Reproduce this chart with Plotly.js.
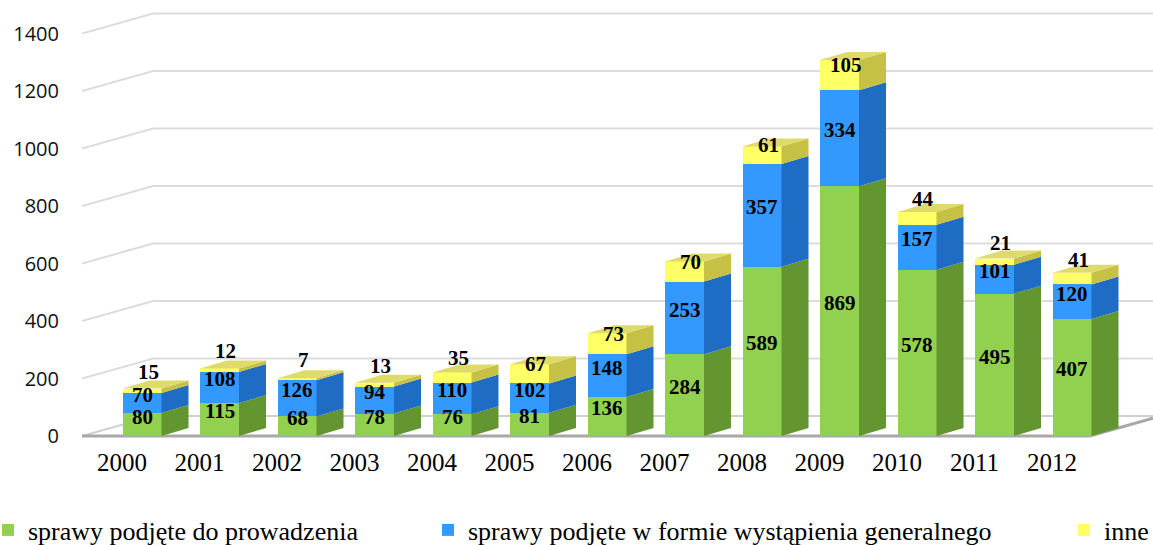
<!DOCTYPE html>
<html><head><meta charset="utf-8">
<script src="https://cdn.plot.ly/plotly-3.0.1.min.js"></script>
<style>html,body{margin:0;padding:0;background:#fff}#chart{width:1153px;height:545px}</style>
</head><body><div id="chart"></div>
<script>
// ---- data ----
const years = ["2000","2001","2002","2003","2004","2005","2006","2007","2008","2009","2010","2011","2012"];
const prowadzenia = [80,115,68,78,76,81,136,284,589,869,578,495,407];
const wystapienia = [70,108,126,94,110,102,148,253,357,334,157,101,120];
const inne = [15,12,7,13,35,67,73,70,61,105,44,21,41];
const seriesNames = ["sprawy podjęte do prowadzenia","sprawy podjęte w formie wystąpienia generalnego","inne"];
const yTicks = [0,200,400,600,800,1000,1200,1400];

// ---- geometry (pixels) ----
const W=1153,H=545, mL=82, mR=0, mT=8, mB=100;
const firstCenterPx=142, stepPx=77.5, pxPerUnit=0.2875, zeroPx=436;
const xOf = px => (px-firstCenterPx)/stepPx;
const xRange=[xOf(mL), xOf(W-mR)];
const yRange=[-(H-mB-zeroPx)/pxPerUnit, (zeroPx-mT)/pxPerUnit];
const barW = 39/stepPx;
const dX = 27/stepPx, dY = 8/pxPerUnit;       // bar depth offset
const wallX = 71/stepPx, wallY = 20/pxPerUnit; // back wall offset

const front = ["#92d050","#3399ff","#ffff66"];
const side  = ["#639530","#1f6cc4","#c6c044"];
const topC  = ["#b5e07a","#6db6ff","#dedb6a"];

const series=[prowadzenia,wystapienia,inne];
const idx = years.map((_,i)=>i);

const traces = series.map((vals,s)=>({
  type:"bar", x:idx, y:vals, width:barW, name:seriesNames[s],
  marker:{color:front[s], line:{width:0}}, hoverinfo:"skip",
  legend: s===0?"legend":(s===1?"legend2":"legend3")
}));

const shapes=[];
// gridlines: left diagonal + back wall
yTicks.forEach(v=>{
  const x0=xOf(mL), x1=xOf(mL)+wallX, x2=xOf(W);
  shapes.push({type:"path", layer:"below", xref:"x", yref:"y",
    path:`M${x0},${v} L${x1},${v+wallY} L${x2},${v+wallY}`,
    line:{color: v===0?"#cfcfcf":"#dcdcdc", width:2}});
});
// floor front edge
shapes.push({type:"path", layer:"below", xref:"x", yref:"y",
  path:`M${xOf(mL)},0 L${xOf(1090)},0 L${xOf(W)},${wallY*63/71}`,
  line:{color:"#a8a8a8", width:3}});

// 3D side and top faces
idx.forEach(i=>{
  let base=0;
  const xr=i+barW/2, xl=i-barW/2;
  series.forEach((vals,s)=>{
    const top=base+vals[i];
    shapes.push({type:"path", layer:"above", xref:"x", yref:"y",
      path:`M${xr},${base} L${xr+dX},${base+dY} L${xr+dX},${top+dY} L${xr},${top} Z`,
      fillcolor:side[s], line:{width:0}});
    base=top;
  });
  shapes.push({type:"path", layer:"above", xref:"x", yref:"y",
    path:`M${xl},${base} L${xl+dX},${base+dY} L${xr+dX},${base+dY} L${xr},${base} Z`,
    fillcolor:topC[2], line:{width:0}});
});

// value labels
const annotations=[];
idx.forEach(i=>{
  let base=0;
  series.forEach((vals,s)=>{
    const shift = s===2 ? (vals[i] < 50 ? 19 : 10) : 8;
    annotations.push({x:i, y:base+vals[i]/2, xref:"x", yref:"y", text:String(vals[i]),
      showarrow:false, yshift: shift, xshift: s===2?6:0, borderpad:0,
      font:{family:"Liberation Serif, Times New Roman, serif", size:21, color:"#000", weight:"bold"}});
    base+=vals[i];
  });
});

const legFont={family:"Liberation Serif, Times New Roman, serif", size:26, color:"#000"};
const legY=(H-mB-530)/(H-mT-mB);
const legX=px=>(px-mL)/(W-mL-mR);
const layout={
  width:W, height:H, margin:{l:mL,r:mR,t:mT,b:mB,autoexpand:false},
  paper_bgcolor:"#fff", plot_bgcolor:"rgba(0,0,0,0)",
  barmode:"stack", showlegend:true,
  xaxis:{range:xRange, tickvals:idx, ticktext:years, showgrid:false, zeroline:false, showline:false,
    ticks:"", ticklabelshift:-20,
    tickfont:{family:"Liberation Serif, Times New Roman, serif", size:25, color:"#000"}},
  yaxis:{range:yRange, tickvals:yTicks, showgrid:false, zeroline:false, showline:false,
    ticks:"outside", ticklen:18, tickcolor:"rgba(0,0,0,0)",
    tickfont:{family:"Open Sans, DejaVu Sans, sans-serif", size:20, color:"#111"}},
  legend:{x:legX(-12), y:legY, xanchor:"left", yanchor:"middle", orientation:"h", font:legFont, bgcolor:"rgba(0,0,0,0)"},
  legend2:{x:legX(428), y:legY, xanchor:"left", yanchor:"middle", orientation:"h", font:legFont, bgcolor:"rgba(0,0,0,0)"},
  legend3:{x:legX(1064), y:legY, xanchor:"left", yanchor:"middle", orientation:"h", font:legFont, bgcolor:"rgba(0,0,0,0)"},
  shapes:shapes, annotations:annotations
};
Plotly.newPlot("chart", traces, layout, {displayModeBar:false, staticPlot:true});
</script></body></html>
